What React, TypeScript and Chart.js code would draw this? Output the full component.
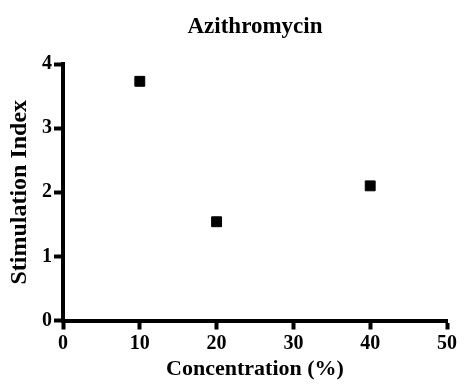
import React, { useEffect, useRef } from "react";
import { Chart, registerables } from "chart.js";

Chart.register(...registerables);

const chartTitle = "Azithromycin";
const xTitle = "Concentration (%)";
const yTitle = "Stimulation Index";
const concentrations = [10, 20, 40];
const stimulationIndex = [3.73, 1.54, 2.1];
const xMin = 0, xMax = 50, xStep = 10;
const yMin = 0, yMax = 4, yStep = 1;

const FONT = "'Liberation Serif', 'Times New Roman', serif";

const titlePlugin = {
  id: "centerTitle",
  afterDraw(chart: any) {
    const { ctx, chartArea } = chart;
    ctx.save();
    ctx.fillStyle = "#000";
    ctx.font = `bold 23px ${FONT}`;
    ctx.textAlign = "center";
    ctx.textBaseline = "middle";
    ctx.fillText(chartTitle, (chartArea.left + chartArea.right) / 2, 27);
    ctx.restore();
  },
};

export default function App() {
  const ref = useRef<HTMLCanvasElement>(null);
  useEffect(() => {
    if (!ref.current) return;
    const chart = new Chart(ref.current, {
      type: "scatter",
      data: {
        datasets: [
          {
            data: concentrations.map((x, i) => ({ x, y: stimulationIndex[i] })),
            pointStyle: "rect",
            pointRadius: 7,
            pointBorderWidth: 1,
            backgroundColor: "#000",
            borderColor: "#000",
          },
        ],
      },
      options: {
        responsive: false,
        animation: false,
        layout: { padding: { top: 64, right: 19, left: 0, bottom: 0 } },
        plugins: { legend: { display: false }, tooltip: { enabled: false }, title: { display: false } },
        scales: {
          x: {
            type: "linear",
            min: xMin,
            max: xMax,
            afterFit: (s: any) => { s.height = 71.5; },
            ticks: { stepSize: xStep, color: "#000", font: { family: FONT, size: 20, weight: "bold" }, padding: 2 },
            grid: { display: true, drawOnChartArea: false, drawTicks: true, tickLength: 9, tickWidth: 4, tickColor: "#000" },
            border: { display: true, width: 4, color: "#000" },
            title: { display: true, text: xTitle, color: "#000", font: { family: FONT, size: 22, weight: "bold" }, padding: { top: 0, bottom: 9 } },
          },
          y: {
            type: "linear",
            min: yMin,
            max: yMax,
            afterFit: (s: any) => { s.width = 63; },
            ticks: { stepSize: yStep, color: "#000", font: { family: FONT, size: 20, weight: "bold" }, padding: 2 },
            grid: { display: true, drawOnChartArea: false, drawTicks: true, tickLength: 9, tickWidth: 4, tickColor: "#000" },
            border: { display: true, width: 4, color: "#000" },
            title: { display: true, text: yTitle, color: "#000", font: { family: FONT, size: 24, weight: "bold" }, padding: { top: 5, bottom: 0 } },
          },
        },
      },
      plugins: [titlePlugin],
    });
    return () => chart.destroy();
  }, []);
  return (
    <div style={{ position: "fixed", left: 0, top: 0, width: 466, height: 392, background: "#fff" }}>
      <canvas ref={ref} width={466} height={392} />
    </div>
  );
}
